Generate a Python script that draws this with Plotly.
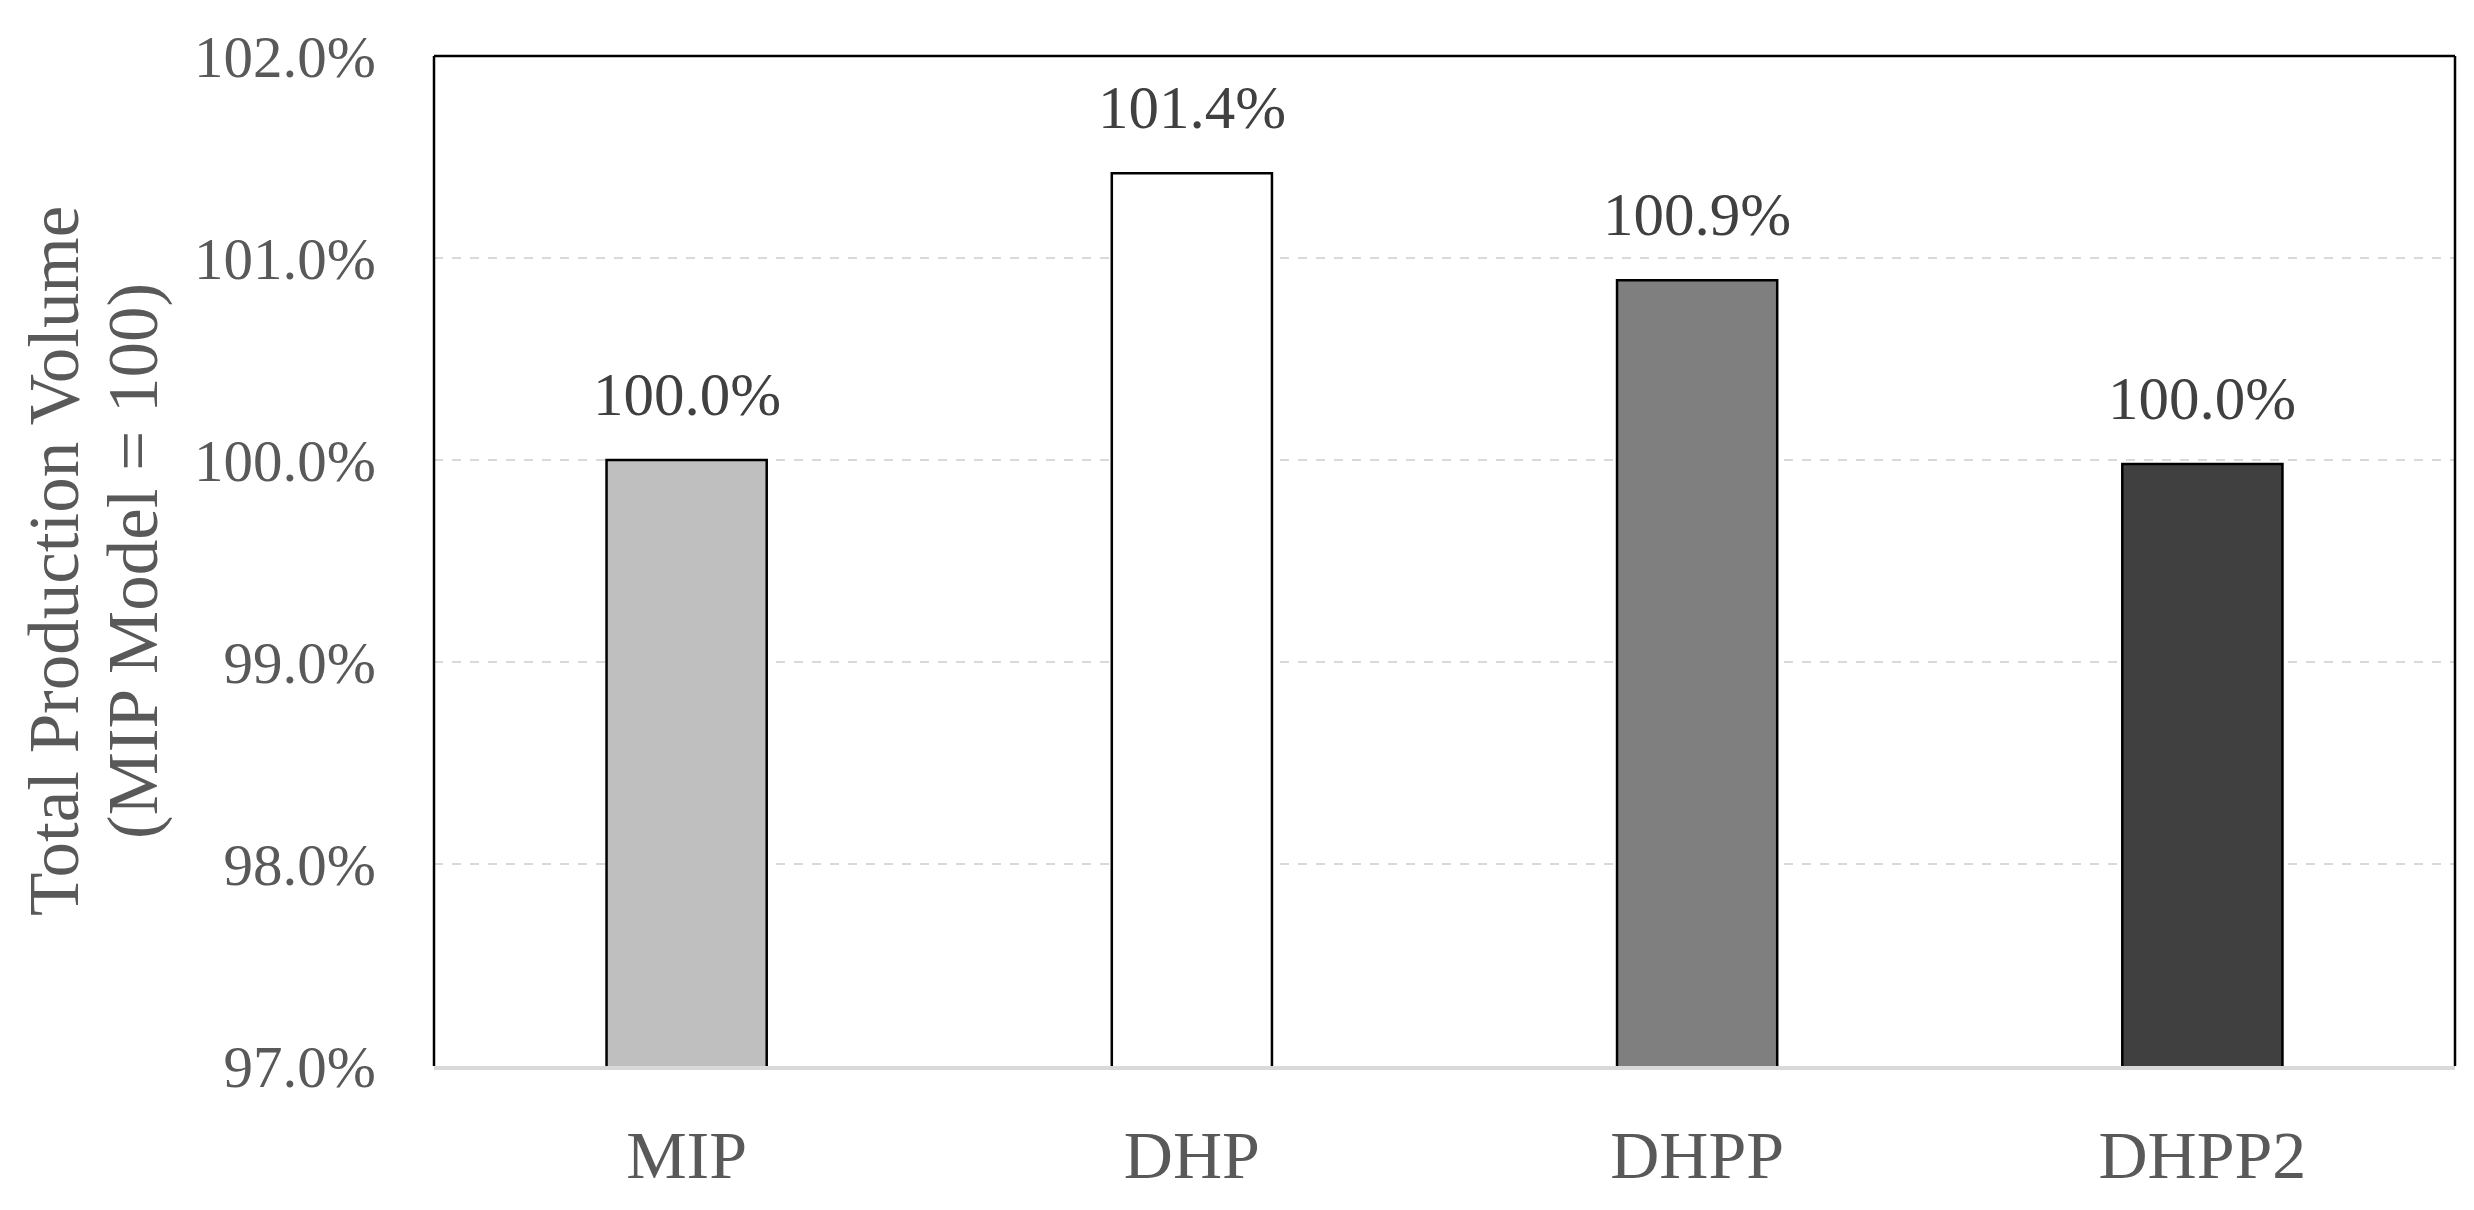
import plotly.graph_objects as go

categories = ["MIP", "DHP", "DHPP", "DHPP2"]
values = [100.0, 101.42, 100.89, 99.98]
labels = ["100.0%", "101.4%", "100.9%", "100.0%"]
colors = ["#bfbfbf", "#ffffff", "#7f7f7f", "#404040"]
y_ticks = [97, 98, 99, 100, 101, 102]
y_tick_labels = ["97.0%", "98.0%", "99.0%", "100.0%", "101.0%", "102.0%"]
title_lines = ["Total Production Volume", "(MIP Model = 100)"]

FONT = "Liberation Serif, Times New Roman, serif"

fig = go.Figure()
fig.add_trace(go.Bar(
    x=categories, y=values,
    marker=dict(color=colors, line=dict(color="#000000", width=2.5)),
    width=0.317, showlegend=False, hoverinfo="skip",
))

for c, v, t in zip(categories, values, labels):
    fig.add_annotation(x=c, y=v, text=t, showarrow=False, yanchor="middle",
                       yshift=66, font=dict(family=FONT, size=61, color="#404040"))

# page body has an 8px margin in the written html
W, H = 2458, 1194
L, R, T, B = 426, 11, 48, 136
pw = W - L - R
PLOT_LEFT_SCREEN = 434

for line, xpix in zip(title_lines, [54, 133]):
    fig.add_annotation(xref="paper", yref="paper", x=(xpix - PLOT_LEFT_SCREEN) / pw, y=0.5,
                       text=line, textangle=-90, showarrow=False,
                       xanchor="center", yanchor="middle",
                       font=dict(family=FONT, size=71, color="#595959"))

# plot border (left, top, right)
for x0, y0, x1, y1 in [(0, 0, 0, 1), (0, 1, 1, 1), (1, 0, 1, 1)]:
    fig.add_shape(type="line", xref="paper", yref="paper", x0=x0, y0=y0, x1=x1, y1=y1,
                  line=dict(color="#000000", width=2.5))

fig.update_layout(
    width=W, height=H,
    margin=dict(l=L, r=R, t=T, b=B, autoexpand=False),
    paper_bgcolor="white", plot_bgcolor="white",
    font=dict(family=FONT),
    xaxis=dict(
        automargin=False,
        showline=True, linecolor="#d9d9d9", linewidth=4,
        showgrid=False, ticks="", ticklabelstandoff=26,
        tickfont=dict(family=FONT, size=68, color="#595959"),
    ),
    yaxis=dict(
        automargin=False,
        range=[97, 102], tickvals=y_ticks, ticktext=y_tick_labels,
        showgrid=True, gridcolor="#d9d9d9", gridwidth=2, griddash="dash",
        zeroline=False, showline=False, ticks="", ticklabelstandoff=57,
        tickfont=dict(family=FONT, size=59, color="#595959"),
    ),
)

fig.write_html("out.html")
